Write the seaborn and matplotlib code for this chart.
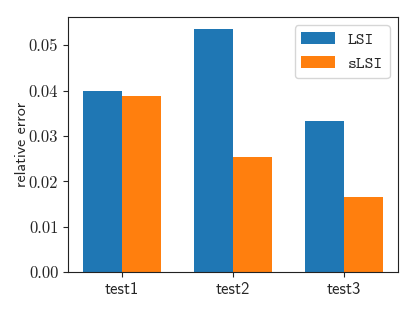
import numpy as np
import matplotlib
matplotlib.use('Agg')
import matplotlib.pyplot as plt
import pandas as pd
import seaborn as sns

#Data
tests = ['test1', 'test2', 'test3']
methods = ['LSI', 'sLSI']
lsi_err = [0.0400, 0.0535, 0.0334]
slsi_err = [0.0388, 0.0254, 0.0166]

df = pd.DataFrame({
    'test': tests * 2,
    'method': ['LSI'] * 3 + ['sLSI'] * 3,
    'err': lsi_err + slsi_err,
})

sns.set_style('ticks')
plt.rcParams['axes.formatter.use_mathtext'] = True
plt.rcParams['mathtext.fontset'] = 'cm'

fig = plt.figure(figsize=(4.15, 3.11), dpi=100)
ax = fig.add_axes([0.164, 0.125, 0.795, 0.820])

sns.barplot(data=df, x='test', y='err', hue='method', palette=['#1f77b4', '#ff7f0e'],
            saturation=1, width=0.7, ax=ax, linewidth=0)

ax.set_xlim(-0.485, 2.485)
ax.set_ylim(0, 0.0562)
ax.set_xlabel('')
ax.set_ylabel('relative error', family='cmss10', fontsize=11.5)
ax.yaxis.set_label_coords(-0.117, 0.5)
ax.set_yticks([0, 0.01, 0.02, 0.03, 0.04, 0.05])
ax.set_yticklabels([f'{v:.2f}' for v in ax.get_yticks()], family='cmr10', fontsize=12)
for lab in ax.get_xticklabels():
    lab.set_family('cmss10')
    lab.set_fontsize(12)
for s in ax.spines.values():
    s.set_visible(True)
    s.set_color('#222222')

leg = ax.legend(loc='upper right', prop={'family': 'cmtt10', 'size': 12}, title=None)

fig.savefig('out.png', dpi=100)
